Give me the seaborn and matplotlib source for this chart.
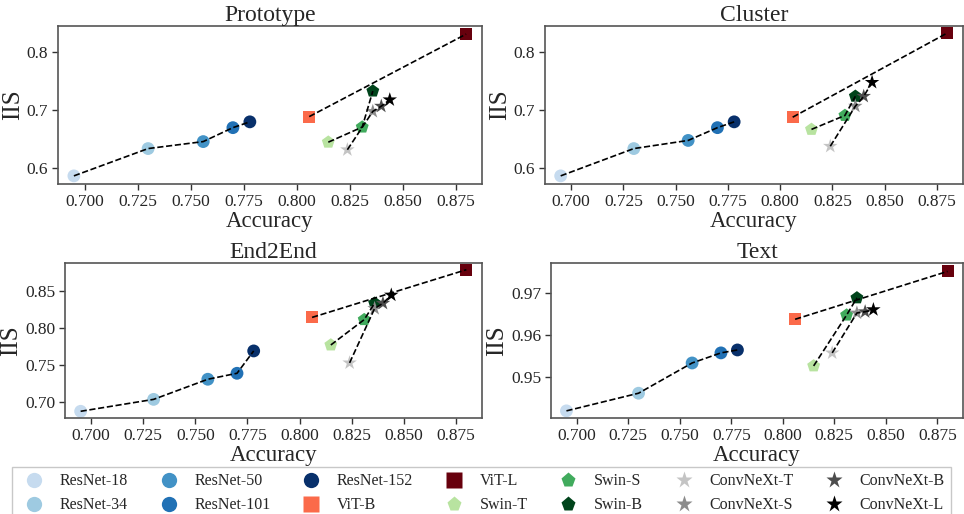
import matplotlib
matplotlib.use('Agg')
import matplotlib.pyplot as plt
from matplotlib.lines import Line2D
import pandas as pd
import seaborn as sns

models = ['ResNet-18', 'ResNet-34', 'ResNet-50', 'ResNet-101', 'ResNet-152',
          'ViT-B', 'ViT-L', 'Swin-T', 'Swin-S', 'Swin-B',
          'ConvNeXt-T', 'ConvNeXt-S', 'ConvNeXt-B', 'ConvNeXt-L']
families = ['ResNet'] * 5 + ['ViT'] * 2 + ['Swin'] * 3 + ['ConvNeXt'] * 4
accuracy = [0.695, 0.730, 0.756, 0.770, 0.778,
            0.806, 0.880, 0.815, 0.831, 0.836,
            0.824, 0.836, 0.840, 0.844]

iis_prototype = [0.587, 0.634, 0.646, 0.670, 0.680,
                 0.689, 0.831, 0.645, 0.671, 0.733,
                 0.632, 0.698, 0.707, 0.718]
iis_cluster = [0.587, 0.634, 0.648, 0.670, 0.680,
               0.688, 0.833, 0.667, 0.691, 0.724,
               0.638, 0.707, 0.724, 0.748]
iis_end2end = [0.688, 0.704, 0.731, 0.739, 0.769,
               0.814, 0.878, 0.777, 0.811, 0.833,
               0.753, 0.826, 0.833, 0.844]
iis_text = [0.9419, 0.9461, 0.9533, 0.9557, 0.9564,
            0.9637, 0.9751, 0.9526, 0.9647, 0.9688,
            0.9557, 0.9652, 0.9655, 0.9660]

panels = {'Prototype': iis_prototype, 'Cluster': iis_cluster,
          'End2End': iis_end2end, 'Text': iis_text}

colors = {'ResNet-18': '#c6dbef', 'ResNet-34': '#9ecae1', 'ResNet-50': '#4292c6',
          'ResNet-101': '#2171b5', 'ResNet-152': '#08306b',
          'ViT-B': '#fb6a4a', 'ViT-L': '#67000d',
          'Swin-T': '#b8e3a0', 'Swin-S': '#41ab5d', 'Swin-B': '#00441b',
          'ConvNeXt-T': '#c4c4c4', 'ConvNeXt-S': '#8c8c8c',
          'ConvNeXt-B': '#4d4d4d', 'ConvNeXt-L': '#000000'}
fam_marker = {'ResNet': 'o', 'ViT': 's', 'Swin': 'p', 'ConvNeXt': '*'}
markers = {m: fam_marker[f] for m, f in zip(models, families)}
sizes = {'o': 85, 's': 75, 'p': 95, '*': 120}

sns.set_style('ticks')
plt.rcParams['font.family'] = ['Liberation Serif', 'DejaVu Serif']
plt.rcParams['axes.edgecolor'] = '#555555'

fig = plt.figure(figsize=(9.64, 5.14), dpi=100)
# axes boxes in pixels: left, top, right, bottom
boxes = [(58, 26, 482, 184), (545, 26, 963, 184),
         (65, 263, 482, 418), (551, 263, 963, 418)]
W, H = 964, 514

for (title, iis), (l, t, r, b) in zip(panels.items(), boxes):
    ax = fig.add_axes([l / W, 1 - b / H, (r - l) / W, (b - t) / H])
    df = pd.DataFrame({'model': models, 'family': families,
                       'Accuracy': accuracy, 'IIS': iis})
    for m in models:
        row = df[df.model == m]
        sns.scatterplot(data=row, x='Accuracy', y='IIS', ax=ax,
                        color=colors[m], marker=markers[m],
                        s=sizes[markers[m]], edgecolor='none', zorder=2,
                        legend=False)
    for f in fam_marker:
        sub = df[df.family == f]
        sns.lineplot(data=sub, x='Accuracy', y='IIS', ax=ax, sort=False,
                     color='black', linestyle='--', linewidth=1.2,
                     zorder=3, legend=False, estimator=None)
    ax.set_title(title, fontsize=17, pad=3)
    ax.set_xlabel('Accuracy', fontsize=16.5, labelpad=1)
    ax.set_ylabel('IIS', fontsize=18, labelpad=2)
    ax.set_xticks([0.700, 0.725, 0.750, 0.775, 0.800, 0.825, 0.850, 0.875])
    ax.set_xticklabels(['0.700', '0.725', '0.750', '0.775', '0.800',
                        '0.825', '0.850', '0.875'])
    ax.tick_params(labelsize=12.5, length=4, width=1, color='#333333', pad=3)
    ax.set_xlim(0.6875, 0.8875)
    for s in ax.spines.values():
        s.set_linewidth(1.2)

    if title in ('Prototype', 'Cluster'):
        ax.set_ylim(0.573, 0.845)
        ax.set_yticks([0.6, 0.7, 0.8])
        ax.set_yticklabels(['0.6', '0.7', '0.8'])
    elif title == 'End2End':
        ax.set_ylim(0.679, 0.887)
        ax.set_yticks([0.70, 0.75, 0.80, 0.85])
        ax.set_yticklabels(['0.70', '0.75', '0.80', '0.85'])
    else:
        ax.set_ylim(0.9402, 0.9771)
        ax.set_yticks([0.95, 0.96, 0.97])
        ax.set_yticklabels(['0.95', '0.96', '0.97'])

handles = [Line2D([], [], linestyle='none', marker=markers[m],
                  markerfacecolor=colors[m], markeredgecolor='none',
                  markersize=11 if markers[m] != '*' else 12.5, label=m)
           for m in models]
leg = fig.legend(handles=handles, ncol=7, loc='upper left',
                 bbox_to_anchor=(12 / W, 1 - 467 / H),
                 fontsize=11.5, frameon=True, fancybox=False,
                 edgecolor='#bbbbbb', borderaxespad=0, handlelength=2.0,
                 handletextpad=0.6, labelspacing=0.5, borderpad=0.4,
                 columnspacing=1.55)
leg.get_frame().set_linewidth(1.0)

fig.savefig('out.png', dpi=100)
